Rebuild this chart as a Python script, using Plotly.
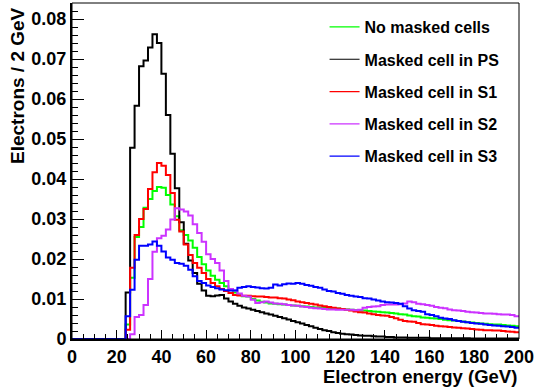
import numpy as np
import plotly.graph_objects as go

# Histogram binning: 100 bins of 2 GeV between 0 and 200 GeV
bin_width = 2.0
edges = np.arange(0.0, 200.0 + bin_width, bin_width)

zeros_low = [0.0] * 12  # bins 0-24 GeV are empty

no_masked = zeros_low + [
    0.0036, 0.0153, 0.0255, 0.0280, 0.0328, 0.0350, 0.0370, 0.0380, 0.0378, 0.0360,
    0.0336, 0.0307, 0.0272, 0.0260, 0.0246, 0.0228, 0.0205, 0.0187, 0.0171, 0.0158,
    0.0148, 0.0140, 0.0132, 0.0125, 0.0116, 0.0110, 0.0107, 0.0106, 0.0100, 0.0096,
    0.0093, 0.0091, 0.0089, 0.0088, 0.0087, 0.0086, 0.0085, 0.0084, 0.0083, 0.0082,
    0.0081, 0.0080, 0.0079, 0.0079, 0.0078, 0.0077, 0.0077, 0.0076, 0.0075, 0.0074,
    0.0073, 0.0072, 0.0071, 0.0071, 0.0070, 0.0069, 0.0068, 0.0067, 0.0066, 0.0065,
    0.0064, 0.0062, 0.0061, 0.0059, 0.0057, 0.0056, 0.0054, 0.0053, 0.0052, 0.0051,
    0.0050, 0.0048, 0.0047, 0.0046, 0.0045, 0.0044, 0.0042, 0.0041, 0.0040, 0.0039,
    0.0038, 0.0037, 0.0036, 0.0036, 0.0035, 0.0034, 0.0033, 0.0032,
]

masked_ps = zeros_low + [
    0.0116, 0.0478, 0.0583, 0.0682, 0.0696, 0.0729, 0.0762, 0.0740, 0.0663, 0.0560,
    0.0463, 0.0377, 0.0292, 0.0238, 0.0196, 0.0165, 0.0138, 0.0121, 0.0108, 0.0107,
    0.0109, 0.0110, 0.0101, 0.0094, 0.0088, 0.0083, 0.0079, 0.0076, 0.0073, 0.0070,
    0.0067, 0.0064, 0.0061, 0.0058, 0.0055, 0.0052, 0.0049, 0.0045, 0.0042, 0.0039,
    0.0035, 0.0032, 0.0028, 0.0025, 0.0022, 0.0020, 0.0017, 0.0015, 0.0013, 0.0012,
    0.0011, 0.0010, 0.0009, 0.0008, 0.0008, 0.0007, 0.0006, 0.0006, 0.0005, 0.0005,
    0.0004, 0.0004, 0.0004, 0.0003, 0.0003, 0.0003, 0.0003, 0.0003, 0.0002, 0.0002,
    0.0002, 0.0002, 0.0002, 0.0002, 0.0002, 0.0002, 0.0002, 0.0001, 0.0001, 0.0001,
    0.0001, 0.0001, 0.0001, 0.0001, 0.0001, 0.0001, 0.0001, 0.0001,
]

masked_s1 = zeros_low + [
    0.0023, 0.0178, 0.0260, 0.0300, 0.0325, 0.0375, 0.0417, 0.0440, 0.0433, 0.0410,
    0.0365, 0.0298, 0.0269, 0.0236, 0.0210, 0.0190, 0.0178, 0.0165, 0.0150, 0.0140,
    0.0132, 0.0125, 0.0120, 0.0115, 0.0110, 0.0109, 0.0108, 0.0108, 0.0107, 0.0106,
    0.0106, 0.0105, 0.0104, 0.0104, 0.0102, 0.0101, 0.0099, 0.0097, 0.0094, 0.0092,
    0.0090, 0.0088, 0.0086, 0.0084, 0.0082, 0.0080, 0.0078, 0.0076, 0.0075, 0.0073,
    0.0071, 0.0069, 0.0067, 0.0066, 0.0064, 0.0062, 0.0060, 0.0059, 0.0058, 0.0055,
    0.0052, 0.0048, 0.0045, 0.0044, 0.0043, 0.0040, 0.0037, 0.0036, 0.0035, 0.0033,
    0.0032, 0.0031, 0.0030, 0.0029, 0.0028, 0.0027, 0.0026, 0.0025, 0.0024, 0.0023,
    0.0022, 0.0022, 0.0021, 0.0021, 0.0020, 0.0019, 0.0018, 0.0017,
]

masked_s2 = zeros_low + [
    0.0000, 0.0012, 0.0055, 0.0060, 0.0085, 0.0150, 0.0218, 0.0252, 0.0258, 0.0274,
    0.0299, 0.0327, 0.0324, 0.0319, 0.0309, 0.0287, 0.0265, 0.0243, 0.0212, 0.0200,
    0.0190, 0.0171, 0.0145, 0.0125, 0.0121, 0.0114, 0.0108, 0.0106, 0.0098, 0.0090,
    0.0092, 0.0094, 0.0091, 0.0089, 0.0088, 0.0087, 0.0085, 0.0084, 0.0083, 0.0081,
    0.0080, 0.0078, 0.0077, 0.0076, 0.0075, 0.0074, 0.0074, 0.0073, 0.0073, 0.0073,
    0.0073, 0.0072, 0.0073, 0.0078, 0.0080, 0.0081, 0.0082, 0.0085, 0.0086, 0.0086,
    0.0086, 0.0087, 0.0089, 0.0094, 0.0092, 0.0088, 0.0087, 0.0085, 0.0083, 0.0080,
    0.0078, 0.0077, 0.0074, 0.0072, 0.0071, 0.0070, 0.0068, 0.0067, 0.0066, 0.0065,
    0.0064, 0.0064, 0.0063, 0.0062, 0.0061, 0.0061, 0.0060, 0.0057,
]

masked_s3 = zeros_low + [
    0.0057, 0.0123, 0.0198, 0.0233, 0.0233, 0.0236, 0.0244, 0.0233, 0.0219, 0.0204,
    0.0198, 0.0190, 0.0188, 0.0183, 0.0173, 0.0157, 0.0145, 0.0140, 0.0134, 0.0130,
    0.0127, 0.0124, 0.0122, 0.0121, 0.0121, 0.0128, 0.0130, 0.0132, 0.0130, 0.0129,
    0.0127, 0.0126, 0.0128, 0.0136, 0.0134, 0.0137, 0.0139, 0.0138, 0.0140, 0.0138,
    0.0135, 0.0133, 0.0130, 0.0128, 0.0124, 0.0120, 0.0119, 0.0115, 0.0113, 0.0110,
    0.0108, 0.0106, 0.0105, 0.0102, 0.0101, 0.0099, 0.0096, 0.0094, 0.0092, 0.0091,
    0.0090, 0.0088, 0.0082, 0.0076, 0.0072, 0.0070, 0.0068, 0.0062, 0.0060, 0.0057,
    0.0053, 0.0051, 0.0050, 0.0047, 0.0045, 0.0043, 0.0042, 0.0040, 0.0039, 0.0038,
    0.0036, 0.0035, 0.0034, 0.0033, 0.0032, 0.0031, 0.0030, 0.0028,
]

series_names = [
    "No masked cells",
    "Masked cell in PS",
    "Masked cell in S1",
    "Masked cell in S2",
    "Masked cell in S3",
]
series_values = [no_masked, masked_ps, masked_s1, masked_s2, masked_s3]
series_colors = ["#00ff00", "#000000", "#ff0000", "#cc33ff", "#0000ff"]

FONT = "Liberation Sans, Arial, Helvetica, sans-serif"

fig = go.Figure()

# Step outlines (ROOT-style histograms): each bin value held across its bin
for name, vals, col in zip(series_names, series_values, series_colors):
    y = list(vals) + [vals[-1]]
    fig.add_trace(go.Scatter(
        x=edges, y=y, mode="lines", line=dict(color=col, width=2, shape="hv"),
        showlegend=False, hoverinfo="skip",
    ))

# Legend entries with thin line samples
for i, (name, col) in enumerate(zip(series_names, series_colors)):
    fig.add_trace(go.Scatter(
        x=[None], y=[None], mode="lines", name=name,
        line=dict(color=col, width=1.2), legendgroup=f"g{i}",
    ))

axis_font = dict(family=FONT, size=18, color="black", weight="bold")

fig.update_layout(
    width=537, height=390,
    margin=dict(l=72, r=16, t=3, b=51),
    paper_bgcolor="white", plot_bgcolor="white",
    font=dict(family=FONT, color="black"),
    showlegend=True,
    legend=dict(
        x=0.565, y=0.979, xanchor="left", yanchor="top",
        bgcolor="rgba(255,255,255,0)", borderwidth=0,
        font=dict(family=FONT, size=16, color="black", weight="bold"),
        tracegroupgap=8.5, traceorder="grouped",
    ),
    xaxis=dict(
        range=[0, 200], showgrid=False, zeroline=False,
        showline=True, linecolor="black", linewidth=2,
        ticks="inside", ticklen=9, tickwidth=1, tickcolor="black",
        tick0=0, dtick=20, tickfont=axis_font,
        minor=dict(ticks="inside", ticklen=5, tickwidth=1, tickcolor="black", dtick=5, showgrid=False),
    ),
    yaxis=dict(
        range=[0, 0.084], showgrid=False, zeroline=False,
        showline=True, linecolor="black", linewidth=2,
        ticks="inside", ticklen=12, tickwidth=1, tickcolor="black",
        tick0=0, dtick=0.01, tickfont=axis_font,
        minor=dict(ticks="inside", ticklen=6, tickwidth=1, tickcolor="black", dtick=0.002, showgrid=False),
    ),
    shapes=[dict(type="rect", xref="paper", yref="paper", x0=0, y0=0, x1=1, y1=1,
                 line=dict(color="black", width=1), fillcolor="rgba(0,0,0,0)", layer="above")],
    annotations=[
        dict(text="Electron energy (GeV)", xref="paper", yref="paper", x=1, y=0,
             xanchor="right", yanchor="middle", yshift=-37, showarrow=False,
             font=dict(family=FONT, size=18.5, color="black", weight="bold")),
        dict(text="Electrons / 2 GeV", xref="paper", yref="paper", x=0, y=1,
             xanchor="center", yanchor="top", xshift=-54.5, yshift=-2, textangle=-90,
             showarrow=False,
             font=dict(family=FONT, size=19, color="black", weight="bold")),
    ],
)

fig.write_html("out.html")
